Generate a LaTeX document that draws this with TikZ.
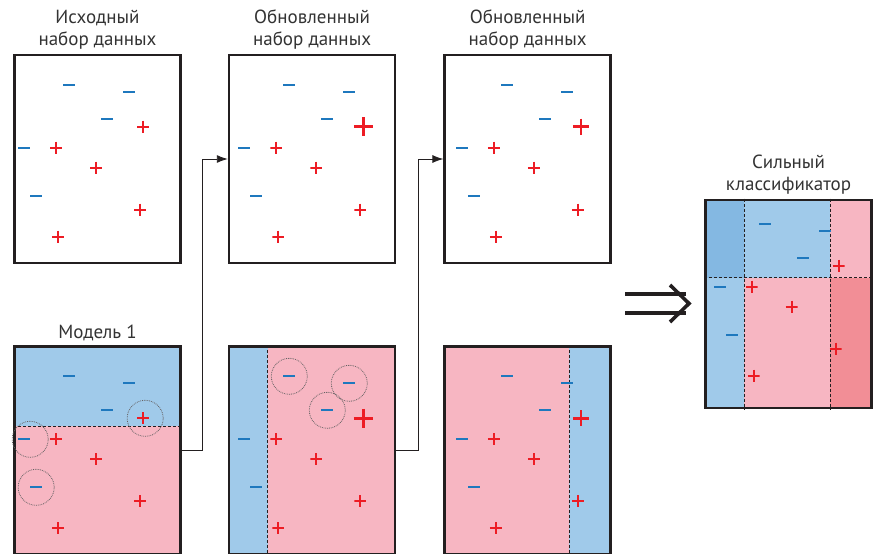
\documentclass[tikz,border=0pt]{standalone}
\usepackage{fontspec}
\setmainfont{PT Sans}
\usetikzlibrary{positioning, arrows.meta, calc, backgrounds}

\definecolor{zoneblue}{HTML}{A0CAEA}
\definecolor{zonebluedark}{HTML}{84B8E2}
\definecolor{zonepink}{HTML}{F7B6C2}
\definecolor{zonepinkdark}{HTML}{F28E96}
\definecolor{markblue}{HTML}{1E78BE}
\definecolor{markred}{HTML}{ED1C24}
\definecolor{boxline}{HTML}{231F20}
\definecolor{textgray}{HTML}{333333}

\newcommand{\plusbars}[1]{\draw[markred, line width=#1]
  (path picture bounding box.north) -- (path picture bounding box.south)
  (path picture bounding box.west) -- (path picture bounding box.east);}

\tikzset{
  databox/.style={draw=boxline, line width=2.6pt, minimum width=166pt,
    minimum height=208pt, inner sep=0pt},
  caption/.style={align=center, text=textgray, inner sep=1pt,
    font=\fontsize{19}{22}\selectfont},
  minusmark/.style={fill=markblue, minimum width=12pt, minimum height=2.2pt,
    inner sep=0pt},
  plusmark/.style={inner sep=0pt, minimum size=12pt,
    path picture={\plusbars{2pt}}},
  midplus/.style={inner sep=0pt, minimum size=16pt,
    path picture={\plusbars{2.6pt}}},
  bigplus/.style={inner sep=0pt, minimum size=19pt,
    path picture={\plusbars{3.2pt}}},
  split/.style={densely dashed, line width=0.8pt, boxline},
  probe/.style={circle, draw=boxline!70, densely dotted, line width=0.8pt,
    minimum size=36pt, inner sep=0pt},
  flowline/.style={draw=boxline, line width=0.9pt,
    -{Latex[length=11pt, width=8pt]}},
}

% ten samples in a box: #1 box name, #2 shift, #3 style of the weighted plus
\newcommand{\samples}[3]{%
  \begin{scope}[shift={($(#1.north west)+(#2)$)}]
    \foreach \x/\y [count=\i] in {56/31, 116/38, 94/65, 11/94, 23/142}
      \node[minusmark] (#1-n\i) at (\x,\y) {};
    \node[#3] (#1-p1) at (130,73) {};
    \foreach \x/\y [count=\i from 2] in {43/94, 83/114, 127/156, 45/183}
      \node[plusmark] (#1-p\i) at (\x,\y) {};
  \end{scope}}

\begin{document}
\begin{tikzpicture}[x=1pt, y=-1pt]
  \useasboundingbox (0,0) rectangle (873,554);

  % data sets
  \node(data1)[databox] at (97.5,159) {};
  \node(data2)[databox, right=46pt of data1] {};
  \node(data3)[databox, right=47pt of data2] {};

  % weak models
  \node(model1)[databox, below=81pt of data1] {};
  \node(model2)[databox, below=81pt of data2] {};
  \node(model3)[databox, below=81pt of data3] {};

  \node(strong)[databox] at (788.5,304) {};

  \node(cap-data1)[caption, above=3pt of data1] {Исходный\\набор данных};
  \node(cap-data2)[caption, above=3pt of data2] {Обновленный\\набор данных};
  \node(cap-data3)[caption, above=3pt of data3] {Обновленный\\набор данных};
  \node(cap-model1)[caption, above=3pt of model1] {Модель 1};
  \node(cap-strong)[caption, above=3pt of strong] {Сильный\\классификатор};

  % decision regions
  \coordinate (cut1) at ($(model1.north west)+(0,81)$);
  \coordinate (cut2) at ($(model2.north west)+(40,0)$);
  \coordinate (cut3) at ($(model3.north west)+(126,0)$);
  \coordinate (cutA) at ($(strong.north west)+(40,0)$);
  \coordinate (cutB) at ($(strong.north west)+(126,0)$);
  \coordinate (cutC) at ($(strong.north west)+(0,79)$);
  \begin{scope}[on background layer]
    \fill[zoneblue] (model1.north west) rectangle (cut1 -| model1.east);
    \fill[zonepink] (cut1) rectangle (model1.south east);
    \fill[zoneblue] (model2.north west) rectangle (cut2 |- model2.south);
    \fill[zonepink] (cut2) rectangle (model2.south east);
    \fill[zonepink] (model3.north west) rectangle (cut3 |- model3.south);
    \fill[zoneblue] (cut3) rectangle (model3.south east);

    \fill[zonebluedark] (strong.north west) rectangle (cutA |- cutC);
    \fill[zoneblue] (cutA) rectangle (cutB |- cutC);
    \fill[zonepink] (cutB) rectangle (cutC -| strong.east);
    \fill[zoneblue] (cutC) rectangle (cutA |- strong.south);
    \fill[zonepink] (cutA |- cutC) rectangle (cutB |- strong.south);
    \fill[zonepinkdark] (cutB |- cutC) rectangle (strong.south east);
  \end{scope}
  \draw[split] (cut1) -- (cut1 -| model1.east);
  \draw[split] (cut2) -- (cut2 |- model2.south);
  \draw[split] (cut3) -- (cut3 |- model3.south);
  \draw[split] (cutA) -- (cutA |- strong.south);
  \draw[split] (cutB) -- (cutB |- strong.south);
  \draw[split] (cutC) -- (cutC -| strong.east);

  % samples
  \samples{data1}{0,0}{plusmark}
  \samples{data2}{5.5,0}{bigplus}
  \samples{data3}{7.5,0}{midplus}
  \samples{model1}{0,0}{plusmark}
  \samples{model2}{5.5,0}{bigplus}
  \samples{model3}{7.5,0}{midplus}
  \samples{strong}{4.5,-6}{plusmark}

  % misclassified samples
  \node(miss1)[probe] at ($(model1-p1)+(2,0)$) {};
  \node(miss2)[probe] at ($(model1-n4)+(6,0)$) {};
  \node(miss3)[probe] at (model1-n5) {};
  \node(miss4)[probe] at (model2-n1) {};
  \node(miss5)[probe] at (model2-n2) {};
  \node(miss6)[probe] at (model2-n3) {};

  \draw[flowline] (model1.east) -- ++(21,0) |- (data2.west);
  \draw[flowline] (model2.east) -- ++(22,0) |- (data3.west);

  % combining arrow
  \coordinate (join) at (658,303.5);
  \draw[boxline, line width=3.6pt]
    ($(join)+(-33,-9.5)$) -- ($(join)+(28,-9.5)$)
    ($(join)+(-33,9.5)$) -- ($(join)+(28,9.5)$);
  \draw[boxline, line width=3.6pt, line join=miter]
    ($(join)+(12,-18.5)$) -- ($(join)+(31,0)$) -- ($(join)+(12,18.5)$);
\end{tikzpicture}
\end{document}
